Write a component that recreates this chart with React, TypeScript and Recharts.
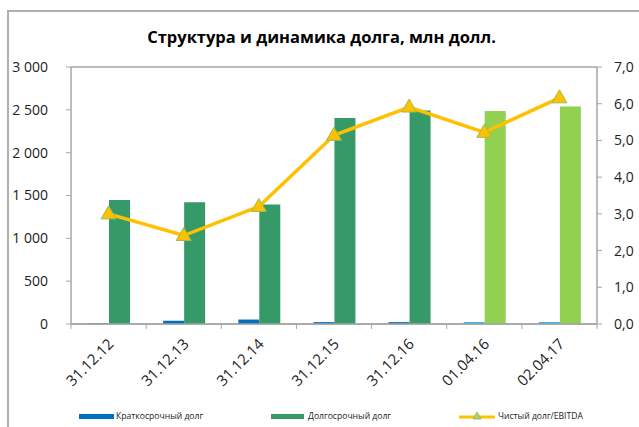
import {
  ComposedChart,
  Bar,
  Line,
  XAxis,
  YAxis,
  CartesianGrid,
  Cell,
} from "recharts";

const categories = ["31.12.12", "31.12.13", "31.12.14", "31.12.15", "31.12.16", "01.04.16", "02.04.17"];
const shortTermDebt = [8, 38, 52, 22, 22, 22, 22];
const longTermDebt = [1448, 1421, 1394, 2404, 2493, 2485, 2540];
const netDebtEbitda = [3.0, 2.41, 3.2, 5.14, 5.91, 5.22, 6.16];
const leftTicks = [0, 500, 1000, 1500, 2000, 2500, 3000];
const rightTicks = [0, 1, 2, 3, 4, 5, 6, 7];

const data = categories.map((c, i) => ({
  name: c,
  short: shortTermDebt[i],
  long: longTermDebt[i],
  ratio: netDebtEbitda[i],
}));

const FONT = "'Open Sans', 'Liberation Sans', sans-serif";
const GRID = "#a6a6a6";
const BLUE = "#0070c0";
const LIGHT_BLUE = "#1fade6";
const GREEN = "#359a67";
const LIGHT_GREEN = "#92d050";
const GOLD = "#ffc000";

const PLOT_LEFT = 71;
const PLOT_RIGHT = 597;
const BAND = (PLOT_RIGHT - PLOT_LEFT) / categories.length;

const fmtLeft = (v: number) => (v >= 1000 ? `${Math.floor(v / 1000)} ${String(v % 1000).padStart(3, "0")}` : String(v));
const fmtRight = (v: number) => v.toFixed(1).replace(".", ",");

const XTick = (props: any) => {
  const { x, y, payload, index } = props;
  return (
    <g>
      <line x1={x - BAND / 2} y1={y - 8} x2={x - BAND / 2} y2={y - 3} stroke={GRID} />
      {index === categories.length - 1 && (
        <line x1={x + BAND / 2} y1={y - 8} x2={x + BAND / 2} y2={y - 3} stroke={GRID} />
      )}
      <text
        transform={`translate(${x + 6},${y + 13}) rotate(-45)`}
        textAnchor="end"
        fontSize={15}
        fontFamily={FONT}
        fill="#222"
      >
        {payload.value}
      </text>
    </g>
  );
};

const TriangleDot = (props: any) => {
  const { cx, cy } = props;
  if (cx == null || cy == null) return null;
  return (
    <path
      d={`M${cx},${cy - 8} L${cx + 7.5},${cy + 5} L${cx - 7.5},${cy + 5} Z`}
      fill={GOLD}
      stroke="#9bbb59"
      strokeWidth={1}
    />
  );
};

export default function App() {
  return (
    <div
      style={{
        position: "absolute",
        left: 0,
        top: 0,
        width: 639,
        height: 427,
        background: "#fff",
        fontFamily: FONT,
        overflow: "hidden",
      }}
    >
      <div
        style={{
          position: "absolute",
          left: 7,
          top: 10,
          width: 700,
          height: 500,
          borderLeft: "2px solid #b0b0b0",
          borderTop: "2px solid #b0b0b0",
        }}
      />
      <div
        style={{
          position: "absolute",
          top: 25,
          left: 2,
          width: 639,
          textAlign: "center",
          fontSize: 16.5,
          fontWeight: "bold",
          color: "#000",
        }}
      >
        Структура и динамика долга, млн долл.
      </div>
      <ComposedChart
        width={639}
        height={427}
        data={data}
        margin={{ top: 67, right: 0, left: 0, bottom: 43 }}
        barGap={0}
        style={{ position: "absolute", left: 0, top: 0 }}
      >
        <CartesianGrid vertical={false} stroke={GRID} strokeWidth={1.5} />
        <XAxis
          dataKey="name"
          interval={0}
          height={60}
          tickLine={false}
          axisLine={{ stroke: GRID, strokeWidth: 1.5 }}
          tick={<XTick />}
        />
        <YAxis
          yAxisId="left"
          width={71}
          domain={[0, 3000]}
          ticks={leftTicks}
          tickFormatter={fmtLeft}
          axisLine={{ stroke: GRID, strokeWidth: 1.5 }}
          tickLine={{ stroke: GRID }}
          tickSize={5}
          tickMargin={18}
          tick={{ fontSize: 14, fill: "#222", fontFamily: FONT }}
        />
        <YAxis
          yAxisId="right"
          orientation="right"
          width={42}
          domain={[0, 7]}
          ticks={rightTicks}
          tickFormatter={fmtRight}
          axisLine={{ stroke: GRID, strokeWidth: 1.5 }}
          tickLine={{ stroke: GRID }}
          tickSize={5}
          tickMargin={12}
          tick={{ fontSize: 14, fill: "#222", fontFamily: FONT, textAnchor: "start" }}
        />
        <Bar yAxisId="left" dataKey="short" barSize={21} isAnimationActive={false}>
          {data.map((_, i) => (
            <Cell key={`s-${i}`} fill={i >= 5 ? LIGHT_BLUE : BLUE} />
          ))}
        </Bar>
        <Bar yAxisId="left" dataKey="long" barSize={21} isAnimationActive={false}>
          {data.map((_, i) => (
            <Cell key={`l-${i}`} fill={i >= 5 ? LIGHT_GREEN : GREEN} />
          ))}
        </Bar>
        <Line
          yAxisId="right"
          dataKey="ratio"
          stroke={GOLD}
          strokeWidth={3.5}
          dot={<TriangleDot />}
          activeDot={false}
          isAnimationActive={false}
        />
      </ComposedChart>
      <div
        style={{
          position: "absolute",
          top: 410,
          left: 0,
          width: 639,
          height: 14,
          fontSize: 8.6,
          color: "#222",
        }}
      >
        <div style={{ position: "absolute", left: 79, top: 4, width: 35, height: 5, background: BLUE }} />
        <span style={{ position: "absolute", left: 116, top: 0 }}>Краткосрочный долг</span>
        <div style={{ position: "absolute", left: 271, top: 4, width: 33, height: 5, background: GREEN }} />
        <span style={{ position: "absolute", left: 308, top: 0 }}>Долгосрочный долг</span>
        <svg style={{ position: "absolute", left: 459, top: 0 }} width={36} height={12}>
          <line x1={0} y1={7} x2={36} y2={7} stroke={GOLD} strokeWidth={3} />
          <path d="M18,2 L22,9 L14,9 Z" fill="#b5cf6b" stroke="#9bbb59" strokeWidth={1} />
        </svg>
        <span style={{ position: "absolute", left: 498, top: 0 }}>Чистый долг/EBITDA</span>
      </div>
    </div>
  );
}
